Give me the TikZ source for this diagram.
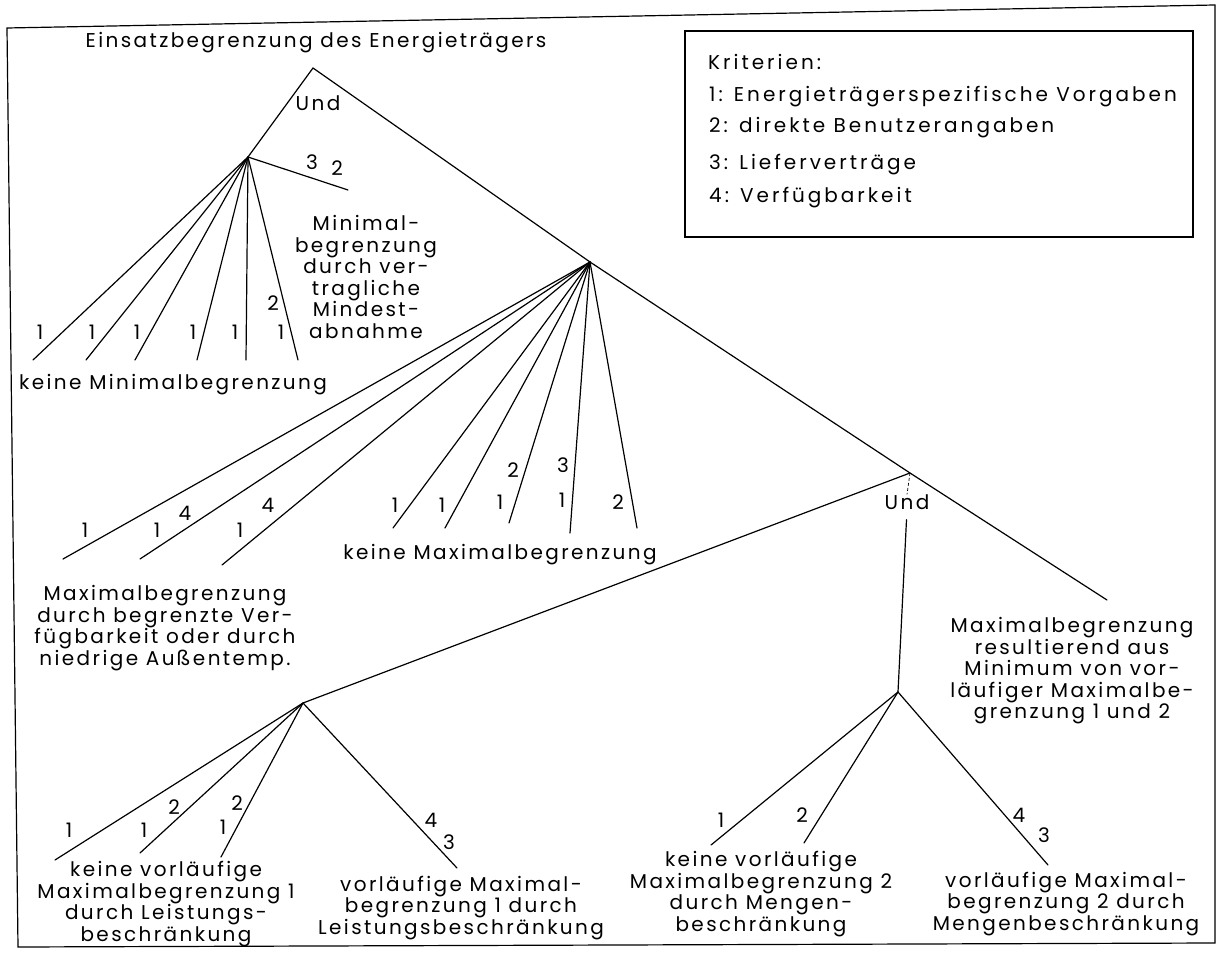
\documentclass[tikz,border=0pt]{standalone}
\usepackage{fontspec}
\setmainfont{Poppins}[LetterSpace=12]
\begin{document}
\begin{tikzpicture}[x=1pt,y=-1pt,
  every node/.style={inner sep=0pt, font=\fontsize{20}{21.5}\selectfont},
  txt/.style={align=center},
  lgd/.style={anchor=west, font=\fontsize{20}{21.5}\selectfont\addfontfeatures{LetterSpace=15}},
  branch/.style={line width=1.2pt, line cap=round},
  frameline/.style={line width=1.2pt, line join=miter},
  faint/.style={line width=0.7pt, dashed, dash pattern=on 3pt off 2pt}]
\useasboundingbox (0,0) rectangle (1232,957);

% outer frame
\coordinate (f1) at (7,28);
\coordinate (f2) at (1215,5);
\coordinate (f3) at (1215,943);
\coordinate (f4) at (18,947);
\draw[frameline] (f1) -- (f2) -- (f3) -- (f4) -- cycle;

% legend
\coordinate (k1) at (685,31);
\coordinate (k2) at (1193,237);
\draw[frameline] (k1) rectangle (k2);
\node[lgd] (kt) at (708,62) {Kriterien:};
\node[lgd] (k1t) at (709,97) {1: Energieträgerspezifische Vorgaben};
\node[lgd] (k2t) at (709,128) {2: direkte Benutzerangaben};
\node[lgd] (k3t) at (709,165) {3: Lieferverträge};
\node[lgd] (k4t) at (709,198) {4: Verfügbarkeit};

% title and root
\node (title) at (316,43) {Einsatzbegrenzung des Energieträgers};
\coordinate (R) at (313,68);
\node (und1) at (318,103) {Und};

% minimum limitation subtree
\coordinate (A) at (248,157);
\coordinate (Amin) at (348,190);
\coordinate (a1) at (33,360);
\coordinate (a2) at (86,360);
\coordinate (a3) at (135,360);
\coordinate (a4) at (197,360);
\coordinate (a5) at (246,360);
\coordinate (a6) at (298,360);

% maximum limitation subtree
\coordinate (B) at (590,262);
\coordinate (b1) at (63,559);
\coordinate (b2) at (140,559);
\coordinate (b3) at (222,565);
\coordinate (c1) at (393,528);
\coordinate (c2) at (445,528);
\coordinate (c3) at (509,523);
\coordinate (c4) at (570,533);
\coordinate (c5) at (637,528);

% combined provisional limits
\coordinate (C) at (910,473);
\coordinate (Cr) at (1107,600);
\node (und2) at (907,502) {Und};
\coordinate (D) at (303,703);
\coordinate (E) at (898,692);
\coordinate (d1) at (55,860);
\coordinate (d2) at (140,853);
\coordinate (d3) at (221,857);
\coordinate (d4) at (457,868);
\coordinate (e1) at (711,845);
\coordinate (e2) at (804,843);
\coordinate (e3) at (1048,865);

% branches
\draw[branch] (A) -- (R) -- (B) -- (C) -- (Cr);
\draw[branch] (A) -- (Amin);
\foreach \p in {a1,a2,a3,a4,a5,a6} \draw[branch] (A) -- (\p);
\foreach \p in {b1,b2,b3,c1,c2,c3,c4,c5} \draw[branch] (B) -- (\p);
\draw[branch] (C) -- (D);
\draw[faint] (C) -- (und2.north);
\draw[branch, shorten <=10pt] (und2.south) -- (E);
\foreach \p in {d1,d2,d3,d4} \draw[branch] (D) -- (\p);
\foreach \p in {e1,e2,e3} \draw[branch] (E) -- (\p);

% criteria numbers on the branches
\node (n32a) at (312,162) {3};
\node (n32b) at (337,168) {2};
\node (na1) at (40,332) {1};
\node (na2) at (92,332) {1};
\node (na3) at (137,332) {1};
\node (na4) at (193,332) {1};
\node (na5) at (235,332) {1};
\node (na6) at (281,332) {1};
\node (na6b) at (273,303) {2};

\node (nb1) at (85,530) {1};
\node (nb2) at (157,530) {1};
\node (nb2b) at (185,513) {4};
\node (nb3) at (240,530) {1};
\node (nb3b) at (268,505) {4};

\node (nc1) at (395,505) {1};
\node (nc2) at (442,505) {1};
\node (nc3) at (500,502) {1};
\node (nc3b) at (513,470) {2};
\node (nc4) at (562,500) {1};
\node (nc4b) at (563,465) {3};
\node (nc5) at (618,502) {2};

\node (nd1) at (69,830) {1};
\node (nd2) at (144,830) {1};
\node (nd2b) at (174,807) {2};
\node (nd3) at (223,827) {1};
\node (nd3b) at (237,803) {2};
\node (nd4) at (431,820) {4};
\node (nd4b) at (449,842) {3};

\node (ne1) at (721,820) {1};
\node (ne2) at (802,815) {2};
\node (ne3) at (1019,815) {4};
\node (ne3b) at (1044,835) {3};

% leaf texts
\node[txt] (tmin) at (366,277) {Minimal-\\begrenzung\\durch ver-\\tragliche\\Mindest-\\abnahme};
\node (tkmin) at (173,385) {keine Minimalbegrenzung};
\node[txt] (tverf) at (165,628) {Maximalbegrenzung\\durch begrenzte Ver-\\fügbarkeit oder durch\\niedrige Außentemp.};
\node (tkmax) at (500,555) {keine Maximalbegrenzung};
\node[txt] (tres) at (1072,671) {Maximalbegrenzung\\resultierend aus\\Minimum von vor-\\läufiger Maximalbe-\\grenzung 1 und 2};
\node[txt] (tk1) at (166,904) {keine vorläufige\\Maximalbegrenzung 1\\durch Leistungs-\\beschränkung};
\node[txt] (tv1) at (461,908) {vorläufige Maximal-\\begrenzung 1 durch\\Leistungsbeschränkung};
\node[txt] (tk2) at (761,894) {keine vorläufige\\Maximalbegrenzung 2\\durch Mengen-\\beschränkung};
\node[txt] (tv2) at (1066,904) {vorläufige Maximal-\\begrenzung 2 durch\\Mengenbeschränkung};
\end{tikzpicture}
\end{document}
